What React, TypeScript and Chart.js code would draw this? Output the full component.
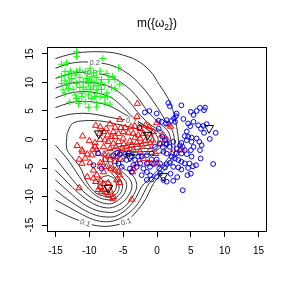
import { useEffect, useRef } from 'react';
import { Chart, registerables } from 'chart.js';

Chart.register(...registerables);

const FONT = '"Liberation Sans", Arial, Helvetica, sans-serif';

const xTicks = [-15, -10, -5, 0, 5, 10, 15];
const yTicks = [-15, -10, -5, 0, 5, 10, 15];

const greenPoints: [number, number][] = [
  [-11.9, 15.4], [-11.9, 14.6], [-8.0, 14.2], [-14.1, 13.2], [-13.35, 13.45], [-5.7, 12.6], [-13.6, 11.9], [-12.8, 12.0],
  [-11.9, 11.9], [-11.4, 12.2], [-10.6, 11.9], [-9.9, 12.5], [-9.4, 11.7], [-8.4, 12.0], [-7.4, 11.6], [-6.55, 11.1],
  [-14.1, 11.1], [-13.1, 11.3], [-12.1, 11.3], [-11.4, 10.9], [-10.4, 10.7], [-9.65, 11.0], [-8.9, 10.9], [-8.2, 10.5],
  [-7.2, 10.5], [-6.2, 10.5], [-5.5, 9.7], [-14.1, 9.8], [-12.9, 10.1], [-11.9, 9.8], [-10.9, 10.1], [-10.15, 9.8],
  [-9.4, 9.4], [-8.7, 9.5], [-7.7, 9.5], [-6.7, 9.1], [-6.2, 8.9], [-13.1, 8.9], [-12.4, 8.8], [-11.4, 9.1],
  [-10.5, 8.8], [-9.8, 8.8], [-8.9, 8.7], [-8.2, 8.8], [-7.4, 8.2], [-13.6, 8.1], [-12.1, 7.8], [-11.1, 7.5],
  [-10.15, 7.8], [-9.2, 7.5], [-8.4, 7.5], [-7.7, 7.4], [-11.1, 8.1], [-9.65, 7.2], [-11.6, 6.3], [-10.6, 6.6],
  [-8.9, 6.4], [-7.7, 6.4], [-6.95, 6.2], [-10.15, 5.6], [-8.9, 5.7], [-12.9, 6.6], [-11.9, 7.2], [-13.35, 9.5],
  [-13.9, 8.7], [-12.6, 10.7], [-10.3, 11.6], [-9.3, 10.1], [-8.4, 9.9], [-9.9, 10.4], [-10.9, 9.2], [-13.6, 10.4],
  [-7.3, 7.5], [-9.0, 8.1],
];

const redPoints: [number, number][] = [
  [-2.9, 6.3], [-2.96, 4.0], [-9.06, 2.46], [-6.95, 2.7], [-5.5, 3.5], [-6.2, 2.1], [-5.37, 2.05], [-4.7, 2.05],
  [-3.84, 2.2], [-3.25, 2.3], [-2.5, 1.9], [-1.7, 2.5], [-1.2, 2.2], [-0.05, 2.9], [1.67, 2.7], [2.0, 2.3],
  [-7.5, 1.9], [-8.4, 2.2], [-7.9, 1.35], [-6.45, 1.35], [-5.7, 1.05], [-4.98, 1.35], [-4.24, 1.17], [-3.5, 1.05],
  [-2.76, 0.76], [-2.0, 1.05], [-1.03, 0.94], [-0.54, 1.35], [-7.3, 0.76], [-6.75, 0.47], [-11.0, 0.58], [-8.5, 1.05],
  [-6.2, 0.47], [-3.25, 0.35], [-2.5, 0.18], [-1.7, -0.23], [-0.64, -0.12], [0.7, 0.76], [-11.8, -1.1], [-10.0, -0.23],
  [-9.16, -0.58], [-8.4, 0], [-7.7, -0.12], [-7.2, -0.4], [-6.45, -0.7], [-5.7, -0.4], [-4.9, -0.82], [-4.5, -1.3],
  [-3.74, -1.0], [-7.9, -1.3], [-6.95, -1.6], [-6.06, -1.3], [-5.2, -1.6], [-9.16, -1.3], [-11.0, -2.16], [-10.3, -2.57],
  [-9.65, -2.75], [-8.67, -2.46], [-7.8, -2.57], [-7.2, -2.9], [-6.2, -3.0], [-5.5, -2.46], [-9.5, -1.75], [-11.1, -1.87],
  [-8.9, -1.75], [-11.5, -3.5], [-11.1, -4.2], [-9.9, -4.1], [-8.4, -4.1], [-7.7, -3.5], [-6.95, -3.6], [-6.2, -3.9],
  [-5.37, -3.5], [-0.8, -4.2], [1.43, 0], [2.17, -2.4], [3.6, -1.7], [3.4, -1.87], [-10.6, -3.3], [-9.4, -5.4],
  [-8.4, -4.7], [-7.5, -4.8], [-6.8, -5.1], [-6.2, -5.4], [-10.3, -6.55], [-8.9, -6.25], [-8.4, -7.1], [-7.9, -5.7],
  [-5.7, -5.7], [-5.5, -6.25], [-3.6, -5.7], [-3.5, -5.1], [-9.4, -6.8], [-9.06, -7.4], [-8.4, -8.3], [-7.9, -7.8],
  [-7.2, -7.6], [-5.96, -7.1], [-5.57, -7.6], [-11.5, -8.5], [-8.67, -8.8], [-7.7, -8.8], [-7.4, -9.35], [-6.95, -8.9],
  [-8.2, -9.2], [-6.45, -10.05], [-3.74, -10.5], [-7.2, -9.8], [-6.55, -10.35], [-1.33, -4.15], [0, -4.15], [-4.0, -0.3],
  [-3.0, -0.6], [-2.2, -1.0], [-1.0, -0.6], [-5.0, 0.2], [-3.5, -1.8], [-2.5, -2.1], [-4.2, -2.4], [-1.0, -1.8],
  [0.5, -0.8], [-0.2, -2.5], [-3.0, -4.3], [-2.0, -3.4],
];

const bluePoints: [number, number][] = [
  [1.67, 6.4], [1.9, 5.85], [3.6, 6.0], [5.0, 4.85], [5.86, 5.0], [6.35, 5.55], [6.95, 5.15], [2.9, 4.56],
  [2.8, 4.1], [2.5, 3.7], [2.17, 3.3], [2.66, 3.1], [1.43, 3.4], [1.33, 2.8], [0.7, 3.1], [-1.8, 4.75],
  [-1.13, 5.0], [-0.05, 4.56], [0.25, 3.3], [-2.6, 2.1], [0.25, 1.9], [4.6, 2.8], [4.9, 2.34], [5.4, 3.1],
  [6.1, 2.5], [6.85, 2.4], [7.34, 2.7], [6.5, 1.9], [6.95, 1.17], [8.67, 1.17], [4.1, 0.58], [4.6, 0.47],
  [5.1, 0.35], [5.86, 0.18], [4.4, -0.12], [5.1, -0.4], [6.26, -0.4], [3.6, -0.58], [0.8, 0.47], [1.18, -0.12],
  [1.43, -0.82], [1.9, -1.3], [2.4, -0.4], [2.9, -1.6], [3.4, -1.0], [3.8, -1.3], [4.1, -1.87], [5.0, -1.87],
  [5.4, -1.3], [6.35, -1.87], [2.9, -2.46], [3.6, -2.46], [4.4, -2.57], [5.1, -3.0], [6.45, -3.33], [0.94, -2.16],
  [1.43, -2.46], [2.17, -3.0], [2.66, -3.33], [3.15, -3.6], [3.6, -3.9], [4.1, -4.2], [4.8, -4.2], [5.3, -4.7],
  [5.76, -4.5], [8.3, -4.3], [3.15, -4.9], [3.6, -5.26], [4.5, -6.25], [1.9, -4.1], [1.43, -4.3], [2.4, -4.8],
  [1.18, -4.9], [0.44, -4.2], [-0.05, -3.5], [-0.8, -3.5], [-0.44, -4.3], [-1.5, -4.2], [-1.03, -4.8], [-2.0, -5.1],
  [-1.5, -5.7], [-2.27, -6.25], [-1.5, -7.1], [-0.8, -7.0], [-0.05, -6.55], [0.44, -5.96], [0.94, -7.1], [1.43, -7.4],
  [2.4, -7.25], [3.8, -8.9], [0.34, -5.1], [-6.45, -2.9], [-5.86, -2.34], [-5.5, -2.57], [-4.7, -2.57], [-4.24, -2.46],
  [-3.74, -3.0], [-3.25, -3.6], [-4.5, -3.6], [-3.5, -4.5], [-4.0, -5.1], [-3.0, -4.8], [-2.5, -4.2], [-3.74, -5.7],
  [-9.4, -4.5], [-8.2, -5.1], [-5.7, -4.2], [-5.2, -4.8], [-0.3, -1.3], [0.34, -0.7], [0.84, -1.3], [1.43, -0.7],
  [-0.8, -2.46], [-1.5, -2.75], [-2.27, -3.0], [-2.76, -3.0], [-8.7, -2.4], [7.1, 5.6], [5.4, 4.3], [3.9, 3.6],
  [4.4, 1.4], [7.8, 0.1], [6.6, -1.0], [4.6, -5.0], [5.0, -6.0], [2.0, -6.0], [3.0, -6.6], [-1.0, -6.3],
];

const centerPoints: [number, number][] = [
  [-8.6, 1.05], [-1.4, 0.8], [-4.0, -3.0], [-7.2, -8.5], [0.9, -6.4], [7.7, 2.0],
];

const contour01: [number, number][] = [
  [-15, 14.2], [-13, 14.9], [-11, 15.3], [-9, 15.4], [-7, 15.3], [-5.6, 15.0], [-3.0, 13.9], [-1.0, 12.0],
  [0.4, 9.5], [1.6, 7.3], [2.5, 4.5], [3.0, 1.5], [3.2, -0.5], [3.1, -2.0], [2.3, -3.8], [0.9, -5.6],
  [-0.2, -7.2], [-0.8, -8.3], [-1.6, -10.3], [-2.8, -12.3], [-4.6, -14.4], [-7, -15.2], [-9, -15.1], [-10.6, -14.6],
  [-13, -13.5], [-15, -12.4],
];
const contour02: [number, number][] = [
  [-15, 12.5], [-13, 13.3], [-11, 13.6], [-9, 13.5], [-7, 13.1], [-5, 12.1], [-3.3, 10.6], [-1.8, 8.7],
  [-0.5, 6.6], [0.6, 4.6], [1.6, 2.6], [2.3, 1.5], [2.6, -0.5], [2.6, -2.2], [1.8, -3.8], [0.4, -5.6],
  [-0.8, -7.2], [-1.5, -8.3], [-2.3, -10.2], [-3.5, -12.2], [-5.2, -13.7], [-7, -14.4], [-9, -14.2], [-11, -13.2],
  [-13, -11.9], [-15, -10.6],
];
const contour03: [number, number][] = [
  [-15, 10.7], [-13, 11.5], [-11, 11.8], [-9, 11.6], [-7, 11.1], [-5.3, 10.0], [-3.8, 8.6], [-2.5, 6.8],
  [-1.3, 4.8], [0.2, 3.0], [1.6, 1.5], [2.1, -0.5], [2.1, -2.3], [1.3, -3.8], [-0.1, -5.6], [-1.5, -7.3],
  [-2.3, -8.3], [-3.1, -10.2], [-4.3, -12.0], [-5.8, -13.3], [-7, -13.6], [-9, -13.3], [-11, -12.2], [-13, -10.7],
  [-15, -8.9],
];
const contour04: [number, number][] = [
  [-15, 9.0], [-13, 9.8], [-11, 10.1], [-9, 9.9], [-7, 9.3], [-5.5, 8.2], [-4.2, 6.8], [-3.0, 5.0],
  [-1.6, 3.2], [-0.2, 2.0], [0.9, 1.4], [1.5, 0], [1.4, -1.5], [0.6, -2.3], [-1.0, -2.6], [-2.0, -2.6],
  [-4.0, -2.9], [-5.3, -3.6], [-5.2, -4.8], [-4.2, -5.6], [-3.3, -6.8], [-3.0, -8.3], [-3.6, -10.0], [-4.8, -11.8],
  [-6, -12.6], [-7, -12.8], [-9, -12.4], [-11, -11.2], [-13, -9.2], [-15, -7.1],
];
const contour05: [number, number][] = [
  [-15, 7.3], [-13, 8.1], [-11, 8.4], [-9, 8.2], [-7, 7.5], [-5.7, 6.4], [-4.5, 5.0], [-3.3, 3.6],
  [-1.8, 2.4], [-0.6, 1.8], [0.2, 1.3], [0.8, 0.3], [0.8, -0.8], [0.2, -1.7], [-1.0, -2.1], [-2.0, -2.1],
  [-4.0, -2.4], [-5.6, -3.1], [-6.0, -4.5], [-5.0, -5.8], [-4.0, -7.0], [-3.7, -8.3], [-4.2, -9.8], [-5.3, -11.2],
  [-7, -12.0], [-9, -11.5], [-11, -10.0], [-13, -7.8], [-15, -5.4],
];
const contour06: [number, number][] = [
  [-15, 5.6], [-13, 6.4], [-11, 6.7], [-9, 6.5], [-7, 5.9], [-5.6, 5.0], [-4.4, 4.2], [-3.0, 3.3],
  [-1.6, 2.3], [-0.5, 1.4], [0.1, 0.3], [0.1, -0.8], [-0.6, -1.5], [-2.0, -1.6], [-4.0, -1.9], [-5.8, -2.5],
  [-6.6, -3.7], [-6.2, -5.3], [-5.2, -6.5], [-4.6, -7.4], [-4.5, -8.3], [-4.9, -9.6], [-5.8, -10.7], [-7, -11.3],
  [-9, -10.7], [-11, -9.0], [-13, -6.3], [-15, -3.3],
];
const contour07: [number, number][] = [
  [-15, 3.8], [-13, 4.4], [-11, 4.6], [-9, 4.4], [-7, 3.9], [-5.5, 3.6], [-3.8, 3.3], [-2.5, 2.6],
  [-1.2, 1.5], [-0.6, 0.4], [-0.6, -0.5], [-1.2, -1.0], [-2.0, -1.1], [-4.0, -1.4], [-6.0, -2.0], [-7.2, -3.0],
  [-7.0, -4.6], [-6.0, -6.1], [-5.3, -7.2], [-5.1, -8.3], [-5.4, -9.4], [-6.2, -10.3], [-7, -10.6], [-8.5, -10.2],
  [-10, -8.8], [-11.5, -6.5], [-13, -3.8], [-15, -1.0],
];
const contour08: [number, number][] = [
  [-13.3, 1.0], [-12.5, 2.8], [-10.6, 3.3], [-8, 3.2], [-6, 2.7], [-4, 2.2], [-2.5, 1.6], [-1.6, 0.7],
  [-1.5, -0.2], [-2.0, -0.6], [-4.0, -0.9], [-6.0, -1.4], [-7.8, -2.4], [-7.8, -4.2], [-6.8, -5.8], [-5.9, -7.1],
  [-5.6, -8.3], [-5.8, -9.2], [-6.4, -9.9], [-7.5, -10.0], [-9, -9.4], [-10.3, -7.6], [-11.4, -4.8], [-12.6, -3.0],
  [-13.35, -1.6], [-13.3, 1.0],
];
const contour09: [number, number][] = [
  [-7.2, -6.3], [-6.3, -6.9], [-6.0, -8.3], [-6.5, -9.4], [-7.5, -9.6], [-8.4, -9.0], [-8.7, -7.8], [-8.2, -6.7],
  [-7.2, -6.3],
];
const contour10: [number, number][] = [
  [-7.3, -7.3], [-6.8, -7.7], [-6.7, -8.5], [-7.2, -9.0], [-7.9, -8.8], [-8.1, -8.0], [-7.8, -7.4], [-7.3, -7.3],
];

const contourLines = [contour01, contour02, contour03, contour04, contour05, contour06, contour07, contour08, contour09, contour10];

const labelText = ['0.1', '0.1', '0.2', '0.3', '0.7'];
const labelX = [-10.6, -4.6, -9.2, -9.6, -3.8];
const labelY = [-14.6, -14.4, 13.5, 11.7, 3.3];
const labelAngle = [0.32, -0.3, 0, 0.05, 0.25];

export default function App() {
  const ref = useRef<HTMLCanvasElement>(null);

  useEffect(() => {
    if (!ref.current) return;
    const toXY = (arr: [number, number][]) => arr.map(([x, y]) => ({ x, y }));

    const contourSets = contourLines.map((c) => ({
      data: toXY(c),
      showLine: true,
      pointRadius: 0,
      borderColor: '#333333',
      borderWidth: 1,
      tension: 0.35,
      fill: false,
      order: 10,
    }));

    const decor = {
      id: 'decor',
      afterDatasetDraw(chart: any, args: any) {
        if (args.index !== 0) return;
        const ctx = chart.ctx;
        const xs = chart.scales.x;
        const ys = chart.scales.y;
        ctx.save();
        ctx.font = `7.5px ${FONT}`;
        ctx.textAlign = 'center';
        ctx.textBaseline = 'middle';
        for (let i = 0; i < labelText.length; i++) {
          const px = xs.getPixelForValue(labelX[i]);
          const py = ys.getPixelForValue(labelY[i]);
          const w = ctx.measureText(labelText[i]).width;
          ctx.save();
          ctx.translate(px, py);
          ctx.rotate(labelAngle[i]);
          ctx.fillStyle = '#ffffff';
          ctx.fillRect(-w / 2 - 1.5, -3.5, w + 3, 7);
          ctx.fillStyle = '#555555';
          ctx.fillText(labelText[i], 0, 0.5);
          ctx.restore();
        }
        ctx.restore();
      },
      afterDraw(chart: any) {
        const ctx = chart.ctx;
        const { left, right, top, bottom } = chart.chartArea;
        const ys = chart.scales.y;
        ctx.save();
        ctx.strokeStyle = '#000';
        ctx.lineWidth = 1;
        ctx.strokeRect(Math.round(left) - 0.5, Math.round(top) - 0.5, Math.round(right - left) + 1, Math.round(bottom - top) + 1);
        ctx.fillStyle = '#000';
        ctx.font = `10px ${FONT}`;
        ctx.textAlign = 'center';
        ctx.textBaseline = 'middle';
        for (const v of yTicks) {
          const py = ys.getPixelForValue(v);
          ctx.save();
          ctx.translate(30, py);
          ctx.rotate(-Math.PI / 2);
          ctx.fillText(String(v), 0, 0);
          ctx.restore();
        }
        const cx = (left + right) / 2;
        const base = 27;
        const mainFont = `12px ${FONT}`;
        const subFont = `8.5px ${FONT}`;
        ctx.textAlign = 'left';
        ctx.textBaseline = 'alphabetic';
        ctx.font = mainFont;
        const a = 'm({\u03c9';
        const c = '})';
        const wa = ctx.measureText(a).width;
        const wc = ctx.measureText(c).width;
        ctx.font = subFont;
        const wb = ctx.measureText('2').width;
        const start = cx - (wa + wb + wc) / 2;
        ctx.font = mainFont;
        ctx.fillText(a, start, base);
        ctx.font = subFont;
        ctx.fillText('2', start + wa, base + 3);
        ctx.font = mainFont;
        ctx.fillText(c, start + wa + wb, base);
        ctx.restore();
      },
    };

    const chart = new Chart(ref.current, {
      type: 'scatter',
      data: {
        datasets: [
          ...contourSets,
          {
            data: toXY(greenPoints),
            pointStyle: 'cross',
            pointRadius: 3.5,
            pointBorderColor: '#00ff00',
            pointBackgroundColor: 'rgba(0,0,0,0)',
            pointBorderWidth: 1,
            order: 3,
          },
          {
            data: toXY(redPoints),
            pointStyle: 'triangle',
            pointRadius: 3.6,
            pointBorderColor: '#ff0000',
            pointBackgroundColor: 'rgba(0,0,0,0)',
            pointBorderWidth: 1,
            order: 2,
          },
          {
            data: toXY(bluePoints),
            pointStyle: 'circle',
            pointRadius: 2.4,
            pointBorderColor: '#0000ff',
            pointBackgroundColor: 'rgba(0,0,0,0)',
            pointBorderWidth: 1,
            order: 1,
          },
          {
            data: toXY(centerPoints),
            pointStyle: 'triangle',
            pointRotation: 180,
            pointRadius: 5.2,
            pointBorderColor: '#000000',
            pointBackgroundColor: 'rgba(0,0,0,0)',
            pointBorderWidth: 1,
            order: 0,
          },
        ] as any,
      },
      options: {
        responsive: false,
        animation: false,
        events: [],
        layout: { padding: { top: 48, right: 25, left: 0, bottom: 0 } },
        plugins: {
          legend: { display: false },
          tooltip: { enabled: false },
          title: { display: false },
        },
        scales: {
          x: {
            type: 'linear',
            position: 'bottom',
            min: -16.11,
            max: 16.11,
            afterBuildTicks: (s: any) => {
              s.ticks = xTicks.map((v) => ({ value: v }));
            },
            afterFit: (s: any) => {
              s.height = 60;
            },
            grid: { drawOnChartArea: false, drawTicks: true, tickLength: 6, color: '#000', lineWidth: 1 },
            border: { display: false },
            ticks: {
              color: '#000',
              font: { size: 10, family: FONT },
              padding: 8,
              maxRotation: 0,
              minRotation: 0,
              autoSkip: false,
              callback: (v: any) => String(v),
            },
          },
          y: {
            type: 'linear',
            position: 'left',
            min: -16.05,
            max: 16.05,
            afterBuildTicks: (s: any) => {
              s.ticks = yTicks.map((v) => ({ value: v }));
            },
            afterFit: (s: any) => {
              s.width = 48;
            },
            grid: { drawOnChartArea: false, drawTicks: true, tickLength: 6, color: '#000', lineWidth: 1 },
            border: { display: false },
            ticks: { display: false },
          },
        },
      } as any,
      plugins: [decor],
    });

    return () => chart.destroy();
  }, []);

  return (
    <div style={{ position: 'absolute', left: 0, top: 0, width: 291, height: 291, background: '#ffffff' }}>
      <canvas ref={ref} width={291} height={291} style={{ display: 'block' }} />
    </div>
  );
}
